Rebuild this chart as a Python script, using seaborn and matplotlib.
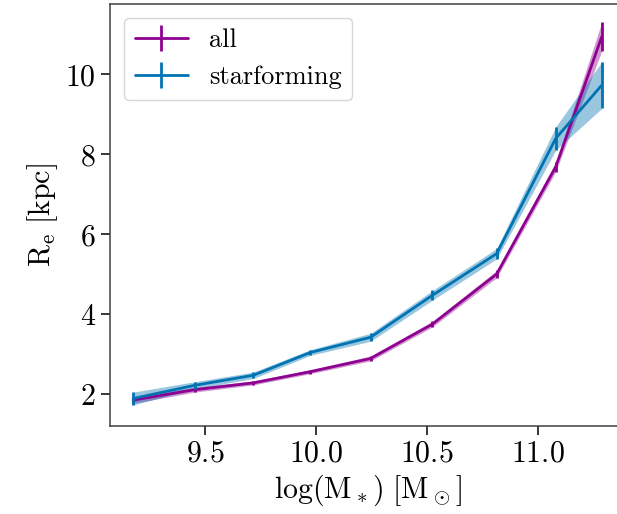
import numpy as np
import pandas as pd
import matplotlib
matplotlib.use("Agg")
import matplotlib.pyplot as plt
import seaborn as sns

# data
logm = [9.177, 9.455, 9.718, 9.975, 10.246, 10.525, 10.814, 11.08, 11.287]
re_all = [1.86, 2.12, 2.29, 2.57, 2.90, 3.76, 5.01, 7.69, 10.94]
err_all = [0.08, 0.06, 0.05, 0.05, 0.06, 0.07, 0.09, 0.12, 0.36]
re_sf = [1.90, 2.23, 2.48, 3.05, 3.43, 4.48, 5.52, 8.40, 9.73]
err_sf = [0.16, 0.09, 0.08, 0.07, 0.10, 0.12, 0.13, 0.29, 0.58]
labels = ["all", "starforming"]
colors = ["#8e0090", "#0173b2"]

sns.set_style("ticks")
plt.rcParams.update({
    "font.family": "serif",
    "font.serif": ["cmr10"],
    "mathtext.fontset": "cm",
    "axes.formatter.use_mathtext": True,
    "axes.unicode_minus": False,
    "axes.edgecolor": "0.25",
    "text.color": "black",
    "axes.labelcolor": "black",
    "xtick.color": "black",
    "ytick.color": "black",
})

df = pd.DataFrame({
    "logm": logm * 2,
    "re": re_all + re_sf,
    "err": err_all + err_sf,
    "sample": [labels[0]] * len(logm) + [labels[1]] * len(logm),
})

fig = plt.figure(figsize=(6.17, 5.14), dpi=100)
ax = fig.add_axes([0.178, 0.171, 0.835, 0.822])

pal = dict(zip(labels, colors))
sns.lineplot(data=df, x="logm", y="re", hue="sample", palette=pal,
             linewidth=2.0, legend=False, ax=ax, errorbar=None)

handles = []
for lab in labels:
    d = df[df["sample"] == lab]
    c = pal[lab]
    ax.fill_between(d["logm"], d["re"] - d["err"], d["re"] + d["err"],
                    color=c, alpha=0.4, linewidth=0)
    ax.errorbar(d["logm"], d["re"], yerr=d["err"], fmt="none",
                ecolor=c, elinewidth=2.0, capsize=0)
    h = ax.errorbar([], [], yerr=[], fmt="-", color=c, ecolor=c,
                    linewidth=2.0, elinewidth=2.0, capsize=0, label=lab)
    handles.append(h)

ax.set_xlim(9.072, 11.392)
ax.set_ylim(1.21, 11.77)
ax.set_xticks([9.5, 10.0, 10.5, 11.0])
ax.set_yticks([2, 4, 6, 8, 10])
ax.tick_params(labelsize=21.5, length=6.5, width=1.1, color="black")
ax.set_xlabel(r"$\mathrm{log(M_*)\ [M_\odot]}$", fontsize=21.5)
ax.set_ylabel(r"$\mathrm{R_e\ [kpc]}$", fontsize=21.5)
for s in ax.spines.values():
    s.set_linewidth(1.1)

ax.legend(handles=handles, labels=labels, loc="upper left", fontsize=19,
          frameon=True, borderaxespad=0.55)

fig.savefig("out.png", dpi=100)
